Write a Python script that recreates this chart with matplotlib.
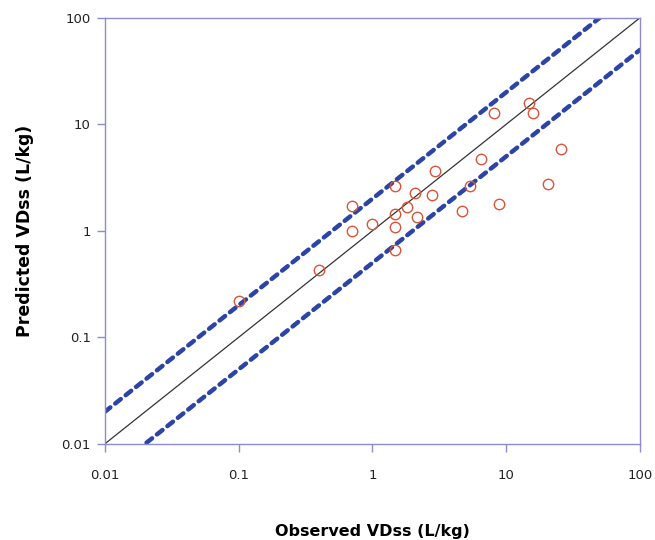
import numpy as np
import matplotlib
matplotlib.use('Agg')
import matplotlib.pyplot as plt
from matplotlib.ticker import FixedLocator, FixedFormatter, NullLocator

# observed / predicted VDss (L/kg)
observed = [0.1, 0.4, 0.7, 0.7, 1.0, 1.48, 1.48, 1.48, 1.48, 1.83, 2.08, 2.16,
            2.77, 2.95, 4.64, 5.4, 6.48, 8.1, 8.77, 14.8, 15.9, 20.6, 25.5]
predicted = [0.22, 0.43, 1.72, 1.0, 1.16, 2.65, 1.44, 1.08, 0.66, 1.69, 2.29, 1.35,
             2.15, 3.68, 1.53, 2.65, 4.77, 12.7, 1.77, 15.9, 12.7, 2.74, 5.89]
ticks = [0.01, 0.1, 1, 10, 100]
tick_labels = ['0.01', '0.1', '1', '10', '100']
fold = 2

fig = plt.figure(figsize=(6.55, 5.40), dpi=100)
ax = fig.add_axes([0.160, 0.178, 0.817, 0.789])

line = np.array([0.01, 100])
ax.plot(line, line, color='#333333', lw=0.9)
ax.plot(line, line * fold, color='#2b44a6', lw=3.2, ls=(0, (1.6, 1.4)), dash_capstyle='round')
ax.plot(line, line / fold, color='#2b44a6', lw=3.2, ls=(0, (1.6, 1.4)), dash_capstyle='round')
ax.plot(observed, predicted, 'o', mfc='none', mec='#d9553a', ms=7.5, mew=1.0)

ax.set_xscale('log')
ax.set_yscale('log')
ax.set_xlim(0.01, 100)
ax.set_ylim(0.01, 100)
for axis in (ax.xaxis, ax.yaxis):
    axis.set_major_locator(FixedLocator(ticks))
    axis.set_major_formatter(FixedFormatter(tick_labels))
    axis.set_minor_locator(NullLocator())

spine_col = '#8c8cd0'
for s in ax.spines.values():
    s.set_color(spine_col)
    s.set_linewidth(1.0)
ax.tick_params(colors=spine_col, length=6, width=1, labelcolor='#222222', labelsize=9.5, pad=4)
ax.tick_params(axis='x', pad=12)

ax.set_xlabel('Observed VDss (L/kg)', fontsize=11.5, fontweight='bold', labelpad=30)
ax.set_ylabel('Predicted VDss (L/kg)', fontsize=12.5, fontweight='bold', labelpad=20)

fig.savefig('out.png', dpi=100)
